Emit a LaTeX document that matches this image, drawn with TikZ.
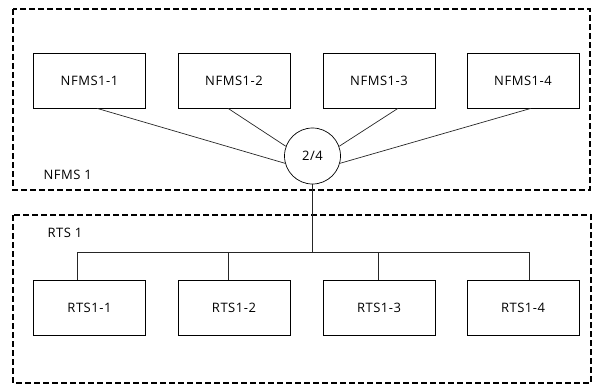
\documentclass[tikz,border=0pt]{standalone}
\usepackage{fontspec}
\setmainfont[LetterSpace=4]{Open Sans}
\usepackage{tikz}

\tikzset{
	unitbox/.style={draw, line width=0.7pt, minimum width=112pt, minimum height=55pt, inner sep=0pt},
	votebox/.style={draw, circle, line width=0.7pt, minimum size=56pt, inner sep=0pt},
	groupbox/.style={line width=1.3pt, dash pattern=on 6pt off 3pt},
	link/.style={line width=0.7pt, black!85}
}

\begin{document}
\begin{tikzpicture}[x=1pt, y=-1pt, font=\fontsize{13}{15}\selectfont]
	\useasboundingbox (0,0) rectangle (593,385);
	\draw[groupbox] (13,9) rectangle (590,190);
	\draw[groupbox] (13,215) rectangle (591,383);

	\node[unitbox] (n1) at (89.5,80.5) {NFMS1-1};
	\node[unitbox] (n2) at (234,80.5) {NFMS1-2};
	\node[unitbox] (n3) at (379,80.5) {NFMS1-3};
	\node[unitbox] (n4) at (523,80.5) {NFMS1-4};
	\node[votebox] (vote) at (312.5,156) {2/4};
	\node[anchor=west] (nlabel) at (40,175) {NFMS 1};

	\node[unitbox] (r1) at (89.5,307.5) {RTS1-1};
	\node[unitbox] (r2) at (234,307.5) {RTS1-2};
	\node[unitbox] (r3) at (379,307.5) {RTS1-3};
	\node[unitbox] (r4) at (523,307.5) {RTS1-4};
	\node[anchor=west] (rlabel) at (44,233) {RTS 1};
	\coordinate (bus) at (312.5,252);

	\draw[link] ([xshift=7.5pt]n1.south) -- (vote.195);
	\draw[link] ([xshift=-6pt]n2.south) -- (vote.160);
	\draw[link] ([xshift=19pt]n3.south) -- (vote.20);
	\draw[link] ([xshift=8pt]n4.south) -- (vote.345);

	\draw[link] (vote.south) -- (bus);
	\draw[link] ([xshift=-12.5pt]r1.north) |- ([xshift=6pt]r4.north |- bus) -- ([xshift=6pt]r4.north);
	\draw[link] ([xshift=-6pt]r2.north) -- ([xshift=-6pt]r2.north |- bus);
	\draw[link] ([xshift=-1pt]r3.north) -- ([xshift=-1pt]r3.north |- bus);
\end{tikzpicture}
\end{document}
